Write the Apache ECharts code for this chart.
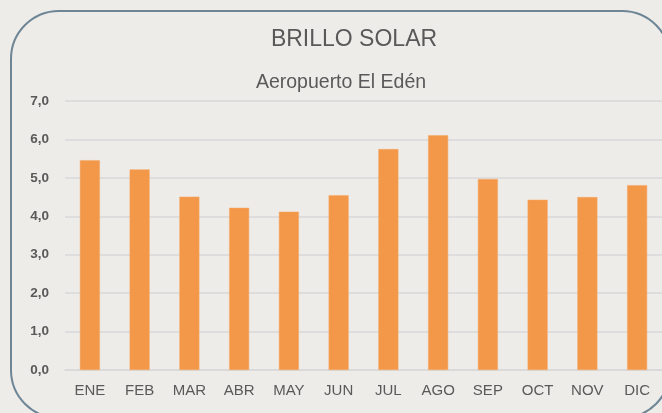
<!DOCTYPE html>
<html>
<head>
<meta charset="utf-8">
<script src="https://cdn.jsdelivr.net/npm/echarts@6/dist/echarts.min.js"></script>
<style>
  html, body { margin: 0; padding: 0; background: #eeece9; }
  #chart { width: 662px; height: 413px; }
</style>
</head>
<body>
<div id="chart"></div>
<script>
const months = ['ENE', 'FEB', 'MAR', 'ABR', 'MAY', 'JUN', 'JUL', 'AGO', 'SEP', 'OCT', 'NOV', 'DIC']
const brilloSolar = [5.46, 5.22, 4.51, 4.22, 4.12, 4.55, 5.75, 6.11, 4.97, 4.43, 4.50, 4.81]
const titleText = 'BRILLO SOLAR'
const subtitleText = 'Aeropuerto El Edén'

const chart = echarts.init(document.getElementById('chart'))
const font = '"Liberation Sans", Arial, sans-serif'

chart.setOption({
  backgroundColor: '#eeece9',
  animation: false,
  title: [
    {
      text: titleText,
      left: 349, top: 23, textAlign: 'center',
      textStyle: { fontFamily: font, fontSize: 23, fontWeight: 'normal', color: '#595959' }
    },
    {
      text: subtitleText,
      left: 336, top: 68, textAlign: 'center',
      textStyle: { fontFamily: font, fontSize: 19.5, fontWeight: 'normal', color: '#595959' }
    }
  ],
  graphic: [
    {
      type: 'rect',
      shape: { x: 11, y: 11, width: 659, height: 407, r: 48 },
      style: { fill: 'none', stroke: '#6d8595', lineWidth: 2 },
      silent: true
    }
  ],
  grid: { left: 65, right: 0, top: 101, bottom: 43 },
  xAxis: {
    type: 'category',
    data: months,
    axisTick: { show: false },
    axisLine: { lineStyle: { color: '#d9d9d9', width: 1.5 } },
    axisLabel: { color: '#595959', fontFamily: font, fontSize: 15, margin: 13 }
  },
  yAxis: {
    type: 'value',
    min: 0, max: 7, interval: 1,
    axisLabel: {
      color: '#595959', fontFamily: font, fontSize: 13.5, fontWeight: 'bold', margin: 16,
      formatter: (v) => v.toFixed(1).replace('.', ',')
    },
    splitLine: { lineStyle: { color: '#d9d9d9', width: 1.5 } }
  },
  series: [
    {
      type: 'bar',
      data: brilloSolar,
      barWidth: 20,
      itemStyle: { color: '#f39848', borderColor: '#f5a868', borderWidth: 0.5 }
    }
  ]
})
</script>
</body>
</html>
